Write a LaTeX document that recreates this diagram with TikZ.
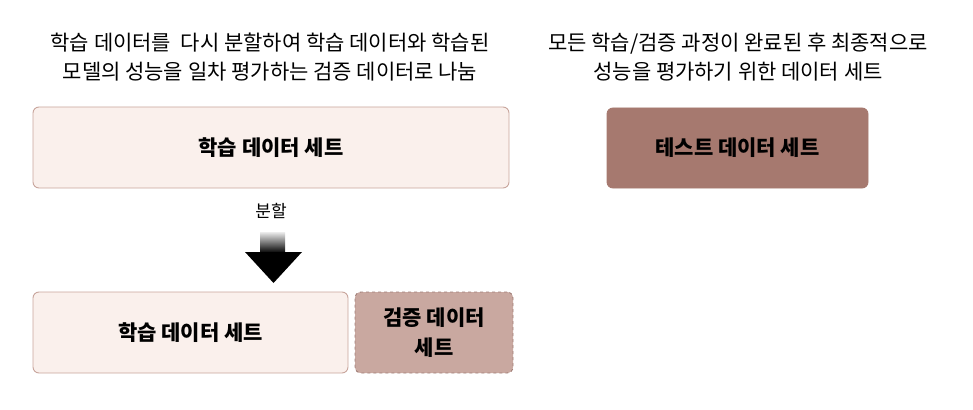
\documentclass[tikz,border=0pt]{standalone}
\usepackage{fontspec}
\setmainfont{Noto Sans CJK KR}
\usetikzlibrary{positioning}

\definecolor{trainfill}{RGB}{250,240,236}
\definecolor{trainline}{RGB}{200,165,156}
\definecolor{testfill}{RGB}{166,121,111}
\definecolor{valfill}{RGB}{201,168,160}
\definecolor{valline}{RGB}{160,125,118}

\tikzset{
    databox/.style={draw=trainline, fill=trainfill, rounded corners=6pt, line width=0.9pt,
        font=\fontsize{21}{30}\selectfont\bfseries, align=center, inner sep=0pt},
    testbox/.style={databox, draw=testfill, fill=testfill},
    valbox/.style={databox, draw=valline, fill=valfill, dashed},
    caption/.style={font=\fontsize{21}{29}\selectfont, align=center}
}

\begin{document}
\begin{tikzpicture}[x=1pt,y=-1pt]

    % Fix the page to the reference size
    \useasboundingbox (0,0) rectangle (973,409);

    % Captions on top
    \node[caption] (cap train) at (270,57) {학습 데이터를~ 다시 분할하여 학습 데이터와 학습된\\모델의 성능을 일차 평가하는 검증 데이터로 나눔};
    \node[caption] (cap test) at (738,57) {모든 학습/검증 과정이 완료된 후 최종적으로\\성능을 평가하기 위한 데이터 세트};

    % Upper boxes
    \node[databox, minimum width=476pt, minimum height=81pt] (train all) at (271,147.5) {학습 데이터 세트};
    \node[testbox, minimum width=261pt, minimum height=80pt] (test set) at (737.5,148) {테스트 데이터 세트};

    % Split label and block arrow
    \node[font=\fontsize{17}{20}\selectfont] (split) at (271,211) {분할};
    \shade[top color=gray!15, bottom color=black] (260,232) rectangle (285,253);
    \fill[black] (245,252) -- (302,252) -- (273.5,283) -- cycle;

    % Lower boxes
    \node[databox, minimum width=315pt, minimum height=81pt] (train part) at (190.5,332.5) {학습 데이터 세트};
    \node[valbox, minimum width=158pt, minimum height=81pt] (val set) at (434,332.5) {검증 데이터\\세트};

\end{tikzpicture}
\end{document}
